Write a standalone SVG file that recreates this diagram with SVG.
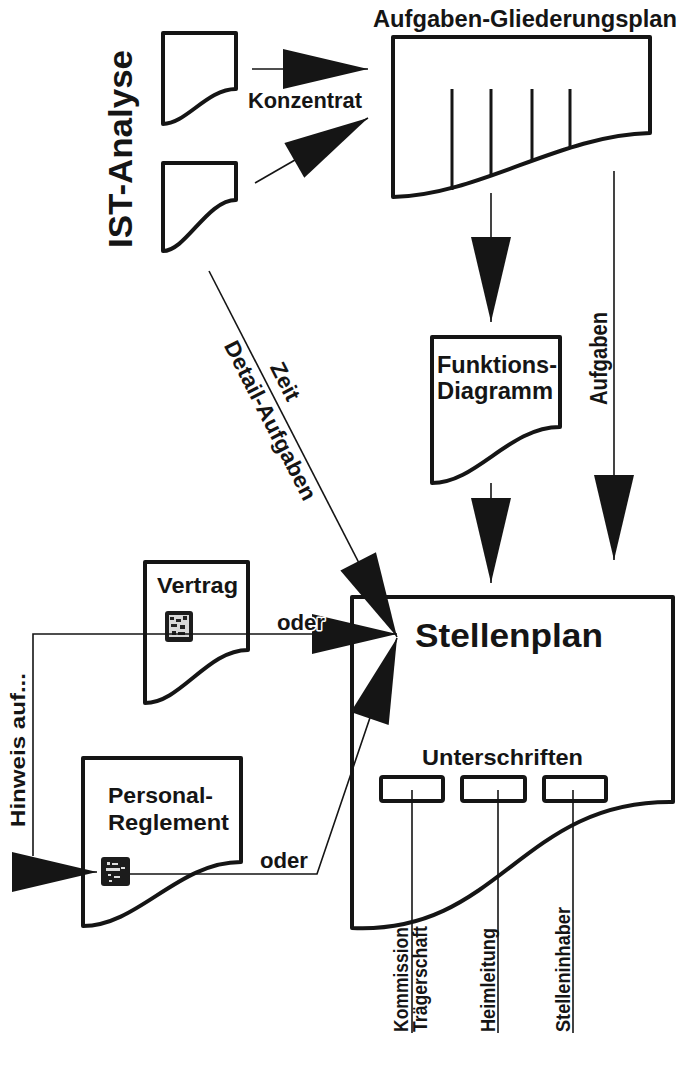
<svg xmlns="http://www.w3.org/2000/svg" width="681" height="1066" viewBox="0 0 681 1066">
<style>
.doc{fill:none;stroke:#151515;stroke-width:4;stroke-linejoin:round}
.t{font-family:"Liberation Sans",Arial,sans-serif;font-weight:bold;fill:#151515}
.thin{fill:none;stroke:#151515;stroke-width:1.6}
.sig{fill:none;stroke:#151515;stroke-width:4;stroke-linejoin:round}
.bar{stroke:#151515;stroke-width:3;fill:none}
.halo{stroke:#ffffff;stroke-width:3;paint-order:stroke;stroke-linejoin:round}
</style>
<defs>
<marker id="ah" markerUnits="userSpaceOnUse" markerWidth="85" markerHeight="40" viewBox="0 0 85 40" refX="85" refY="20" orient="auto" overflow="visible">
<path d="M0,0 L85,20 L0,40 Z" fill="#151515"/>
</marker>
</defs>
<rect width="681" height="1066" fill="#ffffff"/>

<text class="t" font-size="33" textLength="198" lengthAdjust="spacingAndGlyphs" transform="translate(132,248) rotate(-90)">IST-Analyse</text>

<g id="ist1">
<path class="doc" d="M163,33 H236 V89 C207,89 186,124 163,124 Z"/>
</g>
<g id="ist2">
<path class="doc" d="M163,163 H236 V200 C207,200 186,251 163,251 Z"/>
</g>

<g id="gliederungsplan">
<text class="t" x="373" y="27" font-size="23" textLength="304" lengthAdjust="spacingAndGlyphs">Aufgaben-Gliederungsplan</text>
<path class="doc" d="M393,37 H650 V133 C560,135 480,195 393,197 Z"/>
<line class="bar" x1="452" y1="89" x2="452" y2="190"/>
<line class="bar" x1="491" y1="89" x2="491" y2="177"/>
<line class="bar" x1="532" y1="89" x2="532" y2="161"/>
<line class="bar" x1="570" y1="89" x2="570" y2="148"/>
</g>

<g id="funktionsdiagramm">
<path class="doc" d="M432,337 H560 V427 C509,427 477,483 432,483 Z"/>
<text class="t" x="437" y="373" font-size="24" textLength="120" lengthAdjust="spacingAndGlyphs">Funktions-</text>
<text class="t" x="437" y="399" font-size="24" textLength="116" lengthAdjust="spacingAndGlyphs">Diagramm</text>
</g>

<g id="vertrag">
<path class="doc" d="M145,562 H248 V650 C207,650 181,703 145,703 Z"/>
<text class="t" x="157" y="593" font-size="22" textLength="81" lengthAdjust="spacingAndGlyphs">Vertrag</text>
<rect x="165" y="611" width="28" height="31" rx="3" fill="#1c1c1c"/>
<rect x="169" y="615" width="20" height="22" fill="#d8d8d8"/>
<rect x="170" y="617" width="4" height="3" fill="#222"/>
<rect x="176" y="619" width="5" height="3" fill="#222"/>
<rect x="183" y="616" width="4" height="4" fill="#222"/>
<rect x="171" y="624" width="6" height="3" fill="#222"/>
<rect x="180" y="625" width="5" height="4" fill="#222"/>
<rect x="172" y="631" width="4" height="4" fill="#222"/>
<rect x="178" y="632" width="7" height="3" fill="#222"/>
</g>

<g id="personalreglement">
<path class="doc" d="M83,758 H241 V862 C178,862 138,926 83,926 Z"/>
<text class="t" x="108" y="803" font-size="22" textLength="105" lengthAdjust="spacingAndGlyphs">Personal-</text>
<text class="t" x="108" y="830" font-size="22" textLength="121" lengthAdjust="spacingAndGlyphs">Reglement</text>
<rect x="101" y="857" width="29" height="29" rx="3" fill="#1c1c1c"/>
<rect x="107" y="862" width="3" height="3" fill="#ddd"/>
<rect x="112" y="863" width="6" height="2" fill="#ddd"/>
<rect x="106" y="868" width="14" height="3" fill="#ddd"/>
<rect x="121" y="867" width="4" height="2" fill="#ddd"/>
<rect x="108" y="874" width="3" height="2" fill="#ddd"/>
<rect x="114" y="876" width="6" height="2" fill="#ddd"/>
<rect x="109" y="880" width="3" height="2" fill="#ddd"/>
</g>

<g id="stellenplan">
<path class="doc" d="M352,597 H673 V802 C520,800 500,935 352,928 Z"/>
<text class="t" x="415" y="647" font-size="34" textLength="188" lengthAdjust="spacingAndGlyphs">Stellenplan</text>
<text class="t" x="422" y="765" font-size="22" textLength="161" lengthAdjust="spacingAndGlyphs">Unterschriften</text>
<rect class="sig" x="381" y="777" width="62" height="24" rx="2"/>
<rect class="sig" x="462" y="777" width="63" height="24" rx="2"/>
<rect class="sig" x="544" y="777" width="62" height="24" rx="2"/>
</g>

<g id="connectors">
<line class="thin" x1="252" y1="69" x2="368" y2="69" marker-end="url(#ah)"/>
<line class="thin" x1="255" y1="183" x2="368" y2="118" marker-end="url(#ah)"/>
<line class="thin" x1="491" y1="193" x2="491" y2="322" marker-end="url(#ah)"/>
<line class="thin" x1="614" y1="171" x2="614" y2="560" marker-end="url(#ah)"/>
<line class="thin" x1="491" y1="483" x2="491" y2="583" marker-end="url(#ah)"/>
<line class="thin" x1="209" y1="271" x2="397" y2="637" marker-end="url(#ah)"/>
<path class="thin" d="M33,856 V634 H397" marker-end="url(#ah)"/>
<line class="thin" x1="12" y1="872" x2="97" y2="872" marker-end="url(#ah)"/>
<path class="thin" d="M130,874 H317 L397,638" marker-end="url(#ah)"/>
<line class="thin" x1="412" y1="790" x2="412" y2="1033"/>
<line class="thin" x1="498" y1="790" x2="498" y2="1033"/>
<line class="thin" x1="573" y1="790" x2="573" y2="1033"/>
</g>

<g id="labels">
<text class="t" x="248" y="108" font-size="22" textLength="114" lengthAdjust="spacingAndGlyphs">Konzentrat</text>
<text class="t" font-size="23" textLength="93" lengthAdjust="spacingAndGlyphs" transform="translate(607,405) rotate(-90)">Aufgaben</text>
<text class="t" font-size="22" textLength="40" lengthAdjust="spacingAndGlyphs" transform="translate(260.5,371.6) rotate(62.87)" y="-10">Zeit</text>
<text class="t" font-size="22" textLength="176" lengthAdjust="spacingAndGlyphs" transform="translate(242.3,336) rotate(62.87)" y="21">Detail-Aufgaben</text>
<text class="t halo" x="277" y="630" font-size="22" textLength="48" lengthAdjust="spacingAndGlyphs">oder</text>
<text class="t" x="260" y="868" font-size="22" textLength="48" lengthAdjust="spacingAndGlyphs">oder</text>
<text class="t" font-size="21" textLength="154" lengthAdjust="spacingAndGlyphs" transform="translate(25,827) rotate(-90)">Hinweis auf...</text>
<text class="t" font-size="20" textLength="105" lengthAdjust="spacingAndGlyphs" transform="translate(408,1032) rotate(-90)">Kommission</text>
<text class="t" font-size="20" textLength="106" lengthAdjust="spacingAndGlyphs" transform="translate(427,1032) rotate(-90)">Trägerschaft</text>
<text class="t" font-size="20" textLength="104" lengthAdjust="spacingAndGlyphs" transform="translate(495,1032) rotate(-90)">Heimleitung</text>
<text class="t" font-size="20" textLength="125" lengthAdjust="spacingAndGlyphs" transform="translate(570,1032) rotate(-90)">Stelleninhaber</text>
</g>
</svg>
